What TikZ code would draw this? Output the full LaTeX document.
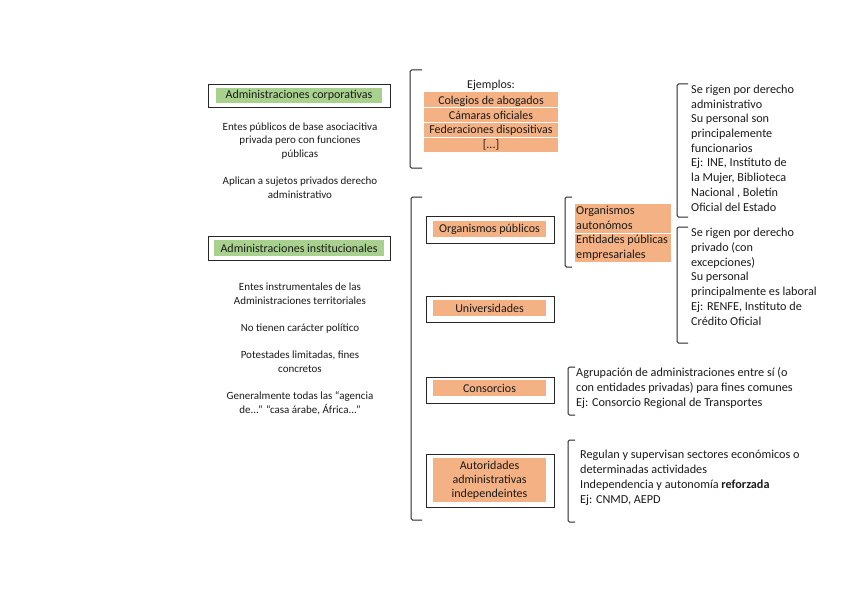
\documentclass[tikz,border=0pt]{standalone}
\usepackage{fontspec}
\setmainfont{Carlito}
\definecolor{greenc}{HTML}{A9D18E}
\definecolor{orangec}{HTML}{F4B183}
\definecolor{txt}{HTML}{1A1A1A}
\begin{document}
\begin{tikzpicture}[x=1pt,y=-1pt,
  outerbox/.style={draw=black!85, line width=0.9pt, fill=white, inner sep=0pt},
  greenlab/.style={fill=greenc, inner sep=0pt, text=txt, font=\fontsize{12}{13}\selectfont},
  orangelab/.style={fill=orangec, inner sep=0pt, text=txt, font=\fontsize{12}{14}\selectfont, align=center},
  brk/.style={draw=black!85, line width=1pt, rounded corners=1.5pt},
  ltxt/.style={font=\fontsize{11}{13.6}\selectfont, align=center, inner sep=0pt, anchor=base, text=txt},
  rtxt/.style={font=\fontsize{12.2}{14.7}\selectfont, align=left, inner sep=0pt, anchor=base west, text=txt},
  sep/.style={draw=white, line width=0.4pt}
]
\useasboundingbox (0,0) rectangle (848,599);

% ---- left column (base anchor = last line baseline) ----
\node[outerbox, minimum width=182pt, minimum height=23pt] (corpbox) at (299,95.5) {};
\node[greenlab, minimum width=166pt, minimum height=15pt] (corp) at (299,95.5) {Administraciones corporativas};
\node[ltxt] (corp1) at (300,157.5) {Entes públicos de base asociacitiva\\privada pero con funciones\\públicas};
\node[ltxt] (corp2) at (300,198) {Aplican a sujetos privados derecho\\administrativo};

\node[outerbox, minimum width=182pt, minimum height=24pt] (instbox) at (299,248) {};
\node[greenlab, minimum width=170pt, minimum height=16pt] (inst) at (299,248) {Administraciones institucionales};
\node[ltxt] (inst1) at (300,304.5) {Entes instrumentales de las\\Administraciones territoriales};
\node[ltxt] (inst2) at (300,331.5) {No tienen carácter político};
\node[ltxt] (inst3) at (300,372.5) {Potestades limitadas, fines\\concretos};
\node[ltxt] (inst4) at (300,413) {Generalmente todas las “agencia\\de...” “casa árabe, África...”};

% ---- examples ----
\draw[brk] (422,70) -- (410,70) -- (410,168) -- (422,168);
\node[font=\fontsize{12}{13}\selectfont, inner sep=0pt, anchor=base, text=txt] (ej) at (491,88.5) {Ejemplos:};
\fill[orangec] (424,92) rectangle (558,152);
\draw[sep] (424,107.5) -- (558,107.5) (424,122.5) -- (558,122.5) (424,137.5) -- (558,137.5);
\node[font=\fontsize{12}{14.7}\selectfont, inner sep=0pt, anchor=base, align=center, text=txt] (ejlist) at (491,148.5) {Colegios de abogados\\Cámaras oficiales\\Federaciones dispositivas\\{}[...]};

% ---- big bracket ----
\draw[brk] (422,197) -- (411,197) -- (411,520) -- (422,520);

\node[outerbox, minimum width=128pt, minimum height=27pt] (orgbox) at (490,229.5) {};
\node[orangelab, minimum width=113pt, minimum height=16pt] (org) at (489.5,229) {Organismos públicos};

\node[outerbox, minimum width=128pt, minimum height=26pt] (unibox) at (490,309) {};
\node[orangelab, minimum width=113pt, minimum height=16pt] (uni) at (489.5,308) {Universidades};

\node[outerbox, minimum width=128pt, minimum height=26pt] (conbox) at (490,390) {};
\node[orangelab, minimum width=113pt, minimum height=16pt] (con) at (489.5,388) {Consorcios};

\node[outerbox, minimum width=128pt, minimum height=53pt] (autbox) at (490,480.5) {};
\node[orangelab, minimum width=113pt, minimum height=44pt] (aut) at (489.5,480) {Autoridades\\administrativas\\independeintes};

% ---- organismos sub-bracket ----
\draw[brk] (572,197) -- (565,197) -- (565,267) -- (572,267);
\fill[orangec] (575,204) rectangle (671,262);
\draw[sep] (575,233.5) -- (671,233.5);
\node[rtxt] (orgsub) at (576,258.5) {Organismos\\autonómos\\Entidades públicas\\empresariales};

% ---- right brackets ----
\draw[brk] (688,84) -- (677,84) -- (677,217) -- (688,217);
\node[rtxt] (oa) at (691,211) {Se rigen por derecho\\administrativo\\Su personal son\\principalemente\\funcionarios\\Ej: INE, Instituto de\\la Mujer, Biblioteca\\Nacional , Boletín\\Oficial del Estado};

\draw[brk] (688,227) -- (677,227) -- (677,343) -- (688,343);
\node[rtxt] (epe) at (691,325) {Se rigen por derecho\\privado (con\\excepciones)\\Su personal\\principalmente es laboral\\Ej: RENFE, Instituto de\\Crédito Oficial};

\draw[brk] (575,367) -- (568,367) -- (568,415) -- (575,415);
\node[rtxt] (cons) at (576,406) {Agrupación de administraciones entre sí (o\\con entidades privadas) para fines comunes\\Ej: Consorcio Regional de Transportes};

\draw[brk] (575,440) -- (568,440) -- (568,522) -- (575,522);
\node[rtxt] (auts) at (580,503) {Regulan y supervisan sectores económicos o\\determinadas actividades\\Independencia y autonomía \textbf{reforzada}\\Ej: CNMD, AEPD};
\end{tikzpicture}
\end{document}
